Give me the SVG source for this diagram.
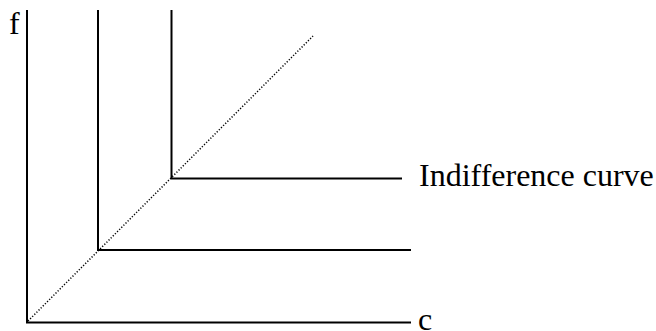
<svg xmlns="http://www.w3.org/2000/svg" width="656" height="331" viewBox="0 0 656 331">
<style>
.ln{stroke:#000;stroke-width:2;fill:none}
.dot{stroke:#000;stroke-width:1.5;stroke-dasharray:1.2 1.8;fill:none}
text{font-family:"Liberation Serif","Times New Roman",serif;fill:#000;font-size:32px}
</style>
<rect width="656" height="331" fill="#fff"/>
<g id="axes">
<polyline class="ln" points="27,10 27,322.5 411,322.5"/>
<text x="9" y="34">f</text>
<text x="418" y="330">c</text>
</g>
<g id="connectors">
<line class="dot" x1="28" y1="321" x2="313" y2="36"/>
</g>
<g id="curve1">
<polyline class="ln" points="98,10 98,250 411,250"/>
</g>
<g id="curve2">
<polyline class="ln" points="171.5,10 171.5,178.5 402,178.5"/>
<text x="419" y="186">Indifference curve</text>
</g>
</svg>
